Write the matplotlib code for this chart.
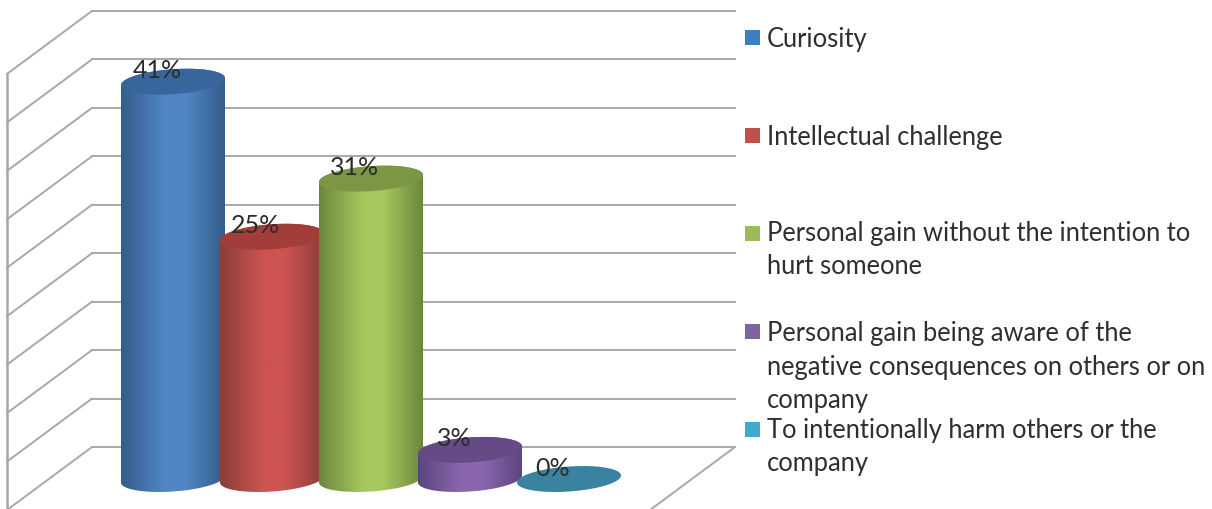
import numpy as np
import matplotlib
matplotlib.use("Agg")
import matplotlib.pyplot as plt
from matplotlib.colors import LinearSegmentedColormap
from matplotlib.patches import Polygon, Rectangle

plt.rcParams['font.family'] = ['Lato', 'DejaVu Sans']

# --- data ---
categories = ["Curiosity", "Intellectual challenge",
              "Personal gain without the intention to\nhurt someone",
              "Personal gain being aware of the\nnegative consequences on others or on\ncompany",
              "To intentionally harm others or the\ncompany"]
values = [41, 25, 31, 3, 0]
value_labels = ["41%", "25%", "31%", "3%", "0%"]
axis_ticks = [0, 5, 10, 15, 20, 25, 30, 35, 40, 45]

# --- styles ---
edge_cols = ["#355c8a", "#8c3d3a", "#6c873d", "#5c457e", "#37839b"]
mid_cols = ["#5086c6", "#cd5450", "#a5c85e", "#8a66ae", "#4babc6"]
cap_cols = ["#38669c", "#a23d3a", "#7b9645", "#664a86", "#3a83a0"]
legend_cols = ["#3f7fbf", "#c0504d", "#9bbb59", "#8064a2", "#41a9c9"]
legend_y = [37, 135, 233, 331, 429]        # pixel centre of each swatch
legend_base = [47, 145, 274, 408, 471]     # pixel baseline of the last line
GRID = "#a8a8a8"

W, H = 1212, 509
fig = plt.figure(figsize=(W / 100, H / 100), dpi=100, facecolor="white")
ax = fig.add_axes([0, 0, 1, 1])

PX_X = 99.0      # px per category
PX_Y = 9.69      # px per percentage point
X0, Y0 = 173.0, 479.0
ax.axis("off")
xlim = (-X0 / PX_X, (W - X0) / PX_X)
ylim = ((Y0 - H) / PX_Y, Y0 / PX_Y)

# depth of the 3-D box in data units
back_dx, back_dy = -81 / PX_X, 32 / PX_Y
depth_dx, depth_dy = -85 / PX_X, -63 / PX_Y
right_x = (735 - X0) / PX_X

for t in axis_ticks:
    yb = t + back_dy
    ax.plot([back_dx, right_x], [yb, yb], color=GRID, lw=1.4, zorder=1)
    ax.plot([back_dx, back_dx + depth_dx], [yb, yb + depth_dy], color=GRID, lw=1.4, zorder=1)
ax.plot([back_dx + depth_dx] * 2, [back_dy + depth_dy - 1, axis_ticks[-1] + back_dy + depth_dy],
        color=GRID, lw=1.8, zorder=1)
ax.plot([right_x, right_x + depth_dx], [back_dy, back_dy + depth_dy], color=GRID, lw=1.4, zorder=1)

# cylinders
a = 52 / PX_X        # half width
b = 12.5 / PX_Y      # half height of the end ellipses
k = 3.5 / PX_Y       # tilt of the end ellipses
tt = np.linspace(0, 2 * np.pi, 181)


def rim(cx, cy, t):
    return cx + a * np.cos(t), cy + b * np.sin(t) + k * np.cos(t)


for i, v in enumerate(values):
    z = 3 + i
    if v > 0:
        lower = np.linspace(np.pi, 2 * np.pi, 91)
        xb, yb = rim(i, 0, lower)
        upper = np.linspace(0, np.pi, 91)
        xt, yt = rim(i, v, upper)
        body = np.column_stack([np.r_[xb, xt], np.r_[yb, yt]])
        cmap = LinearSegmentedColormap.from_list(
            "c", [(0, edge_cols[i]), (0.42, mid_cols[i]), (0.62, mid_cols[i]), (1, edge_cols[i])])
        im = ax.imshow(np.linspace(0, 1, 256)[None, :], cmap=cmap, aspect="auto",
                       extent=(i - a, i + a, yb.min(), yt.max()), zorder=z)
        clip = Polygon(body, closed=True, transform=ax.transData)
        im.set_clip_path(clip)
    cx, cy = rim(i, v, tt)
    ax.add_patch(Polygon(np.column_stack([cx, cy]), closed=True,
                         facecolor=cap_cols[i], edgecolor="none", zorder=z + 0.1))
    ax.text(i - 16 / PX_X, v + 11 / PX_Y, value_labels[i], ha="center", va="center",
            fontsize=18, color="#2b2b2b", zorder=10)

ax.set_xlim(xlim)
ax.set_ylim(ylim)

# legend (figure pixels)
for col, yc, yt, label in zip(legend_cols, legend_y, legend_base, categories):
    fig.add_artist(Rectangle((745 / W, 1 - (yc + 7.5) / H), 14.5 / W, 15 / H,
                             transform=fig.transFigure, facecolor=col, edgecolor="none"))
    fig.text(767 / W, 1 - yt / H, label, fontsize=18.4, color="#2f2f2f", ha="left", va="baseline",
             linespacing=1.42)

fig.savefig("out.png", dpi=100, facecolor="white")
